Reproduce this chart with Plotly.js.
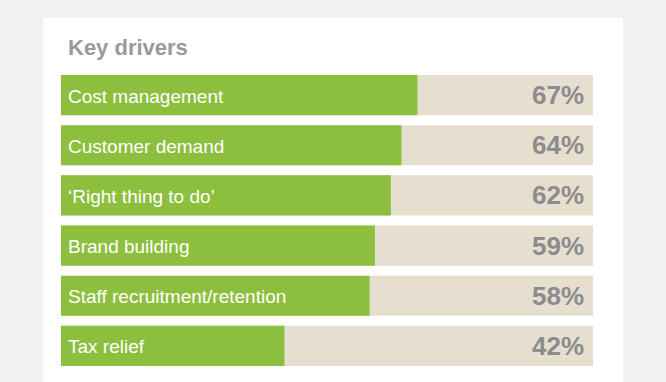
<!DOCTYPE html>
<html>
<head>
<meta charset="utf-8">
<script src="https://cdn.plot.ly/plotly-3.0.1.min.js"></script>
<style>html,body{margin:0;padding:0;background:#f2f1ef;}#chart{width:666px;height:382px;}</style>
</head>
<body>
<div id="chart"></div>
<script>
const categories = ["Cost management", "Customer demand", "\u2018Right thing to do\u2019", "Brand building", "Staff recruitment/retention", "Tax relief"];
const values = [67, 64, 62, 59, 58, 42];
const fullScale = [100, 100, 100, 100, 100, 100];
const valueLabels = ["67%", "64%", "62%", "59%", "58%", "42%"];

const green = "#8cbf3e";
const beige = "#e6dfcf";

const traces = [
  {type: "bar", orientation: "h", y: categories, x: fullScale, marker: {color: beige}, hoverinfo: "skip", showlegend: false},
  {type: "bar", orientation: "h", y: categories, x: values, marker: {color: green}, hoverinfo: "skip", showlegend: false}
];

const annotations = [];
categories.forEach((c, i) => {
  annotations.push({x: 0, y: c, xref: "x", yref: "y", text: c, showarrow: false, xanchor: "left", xshift: 5, yshift: -1,
    font: {family: "Liberation Sans, Arial, sans-serif", size: 19, color: "#ffffff"}});
  annotations.push({x: 100, y: c, xref: "x", yref: "y", text: "<b>" + valueLabels[i] + "</b>", showarrow: false, xanchor: "right", xshift: -7,
    font: {family: "Liberation Sans, Arial, sans-serif", size: 26, color: "#8c8c8c"}});
});
annotations.push({x: 5/532, y: (371 - 48) / 301, xref: "paper", yref: "paper", text: "<b>Key drivers</b>", showarrow: false,
  xanchor: "left", yanchor: "middle", font: {family: "Liberation Sans, Arial, sans-serif", size: 22, color: "#999999"}});

const layout = {
  width: 666, height: 382,
  margin: {l: 61, r: 73, t: 70, b: 11, pad: 0},
  paper_bgcolor: "#f2f1ef",
  plot_bgcolor: "rgba(0,0,0,0)",
  barmode: "overlay",
  bargap: 0.2,
  xaxis: {range: [0, 100], visible: false, fixedrange: true},
  yaxis: {autorange: "reversed", visible: false, fixedrange: true, type: "category"},
  shapes: [{type: "rect", xref: "paper", yref: "paper", layer: "below",
    x0: -18/532, x1: 562/532, y0: -1, y1: 1 + 52/301, fillcolor: "#ffffff", line: {width: 0}}],
  annotations: annotations
};

Plotly.newPlot("chart", traces, layout, {displayModeBar: false, staticPlot: true});
</script>
</body>
</html>
